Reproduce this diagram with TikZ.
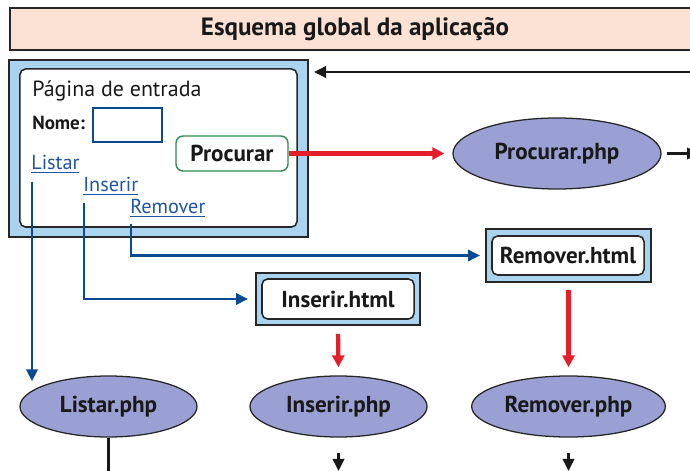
\documentclass[tikz,border=0pt]{standalone}
\usepackage{fontspec}
\setmainfont{PT Sans}
\usetikzlibrary{positioning}
\usetikzlibrary{shapes}
\usetikzlibrary{calc}
\usetikzlibrary{arrows.meta}
\usepackage{xcolor}

\definecolor{titlefill}{HTML}{FCE1D5}
\definecolor{framefill}{HTML}{A9D3EF}
\definecolor{phpfill}{HTML}{9AA0D3}
\definecolor{navy}{HTML}{0B4A93}
\definecolor{linkblue}{HTML}{1F55A4}
\definecolor{redline}{HTML}{E41E2B}
\definecolor{btngreen}{HTML}{2F8B4E}

\begin{document}
\begin{tikzpicture}[x=0.025cm, y=-0.025cm,
        every node/.style={font=\fontsize{16.4}{19}\selectfont\bfseries, text=black!90},
        frame/.style={draw=black!85, fill=framefill, line width=1.1pt},
        card/.style={draw=black!85, fill=white, line width=1.1pt, rounded corners=4pt},
        php/.style={ellipse, draw=black!85, fill=phpfill, line width=0.9pt},
        link/.style={font=\fontsize{14.4}{17}\selectfont, text=linkblue, inner sep=0, anchor=base west},
        bl/.style={draw=navy, line width=2pt, -{Triangle[length=0.3cm, width=0.28cm]}},
        rd/.style={draw=redline, line width=3pt, -{Triangle[length=0.3cm, width=0.3cm]}},
        bk/.style={draw=black!90, line width=2pt, -{Triangle[length=0.3cm, width=0.28cm]}}]
            \useasboundingbox (0,0) rectangle (690,471);
            \clip (0,0) rectangle (690,471);

            % title bar
            \node[draw=black!85, fill=titlefill, line width=1.1pt, minimum width=17.25cm, minimum height=1.05cm, font=\fontsize{17.8}{20}\selectfont\bfseries] (title) at (355,29) {Esquema global da aplicação};

            % entry page
            \node[frame, minimum width=7.475cm, minimum height=4.425cm] (pag) at (158.5,148.5) {};
            \node[card, minimum width=6.925cm, minimum height=3.95cm] (pagin) at (158.5,148) {};
            \node[font=\fontsize{15.6}{18}\selectfont, inner sep=0, anchor=base west] (head) at (32,97) {Página de entrada};
            \node[font=\fontsize{13.5}{16}\selectfont\bfseries, inner sep=0, anchor=base west] (nome) at (32,130) {Nome:};
            \node[draw=navy, line width=2pt, fill=white, minimum width=1.725cm, minimum height=0.85cm] (field) at (127.5,125) {};
            \node[draw=btngreen, line width=1pt, fill=white, rounded corners=5pt, minimum width=2.8cm, minimum height=0.875cm] (btn) at (232,153.5) {Procurar};
            \node[link] (listar) at (31,170) {\underline{Listar}};
            \node[link] (inserir) at (83,192) {\underline{Inserir}};
            \node[link] (remover) at (130,214) {\underline{Remover}};

            % html forms
            \node[frame, minimum width=4.1cm, minimum height=1.3cm] (inshtml) at (338,299) {};
            \node[card, minimum width=3.8cm, minimum height=1cm] (insin) at (338,299) {Inserir.html};
            \node[frame, minimum width=4.125cm, minimum height=1.325cm] (remhtml) at (568.5,255.5) {};
            \node[card, minimum width=3.8cm, minimum height=0.975cm] (remin) at (568,255.5) {Remover.html};

            % scripts
            \node[php, minimum width=5.2cm, minimum height=1.775cm] (procphp) at (557,153.5) {Procurar.php};
            \node[php, minimum width=4.425cm, minimum height=1.525cm] (lisphp) at (108.5,406.5) {Listar.php};
            \node[php, minimum width=4.425cm, minimum height=1.525cm] (insphp) at (338.5,406.5) {Inserir.php};
            \node[php, minimum width=4.425cm, minimum height=1.525cm] (remphp) at (568.5,406.5) {Remover.php};

            \coordinate (back) at (692,72);
            \coordinate (out) at (699,153.5);
            \coordinate (l1) at ([shift={(1,9)}]listar.south west);
            \coordinate (i1) at ([shift={(1,8)}]inserir.south west);
            \coordinate (r1) at ([shift={(1,7)}]remover.south west);
            \coordinate (lend) at (108.5,480);
            \coordinate (iend) at (338.5,471);
            \coordinate (rend) at (568.5,471);

            \draw[bl, shorten >=-0.15cm] (l1) -- (l1 |- lisphp.north);
            \draw[bl, shorten >=0.18cm] (i1) |- (inshtml.west);
            \draw[bl, shorten >=0.13cm] (r1) |- (remhtml.west);

            \draw[rd, shorten >=0.2cm] (btn.east) -- (procphp.west);
            \draw[rd, shorten <=0.2cm, shorten >=0.2cm] (inshtml.south) -- (insphp.north);
            \draw[rd, shorten <=0.18cm, shorten >=0.2cm] (remhtml.south) -- (remphp.north);

            \draw[bk, shorten >=0.13cm] (back) -- (back -| pag.east);
            \draw[bk, shorten <=0.13cm] (procphp.east) -- (out);
            \draw[bk, -] (lisphp.south) -- (lend);
            \draw[bk, shorten <=0.375cm] (insphp.south) -- (iend);
            \draw[bk, shorten <=0.375cm] (remphp.south) -- (rend);
        \end{tikzpicture}
\end{document}
